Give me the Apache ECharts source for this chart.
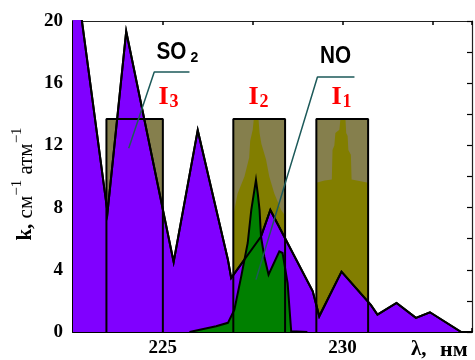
<!DOCTYPE html>
<html>
<head>
<meta charset="utf-8">
<script src="https://cdn.jsdelivr.net/npm/echarts@6/dist/echarts.min.js"></script>
<style>
  html, body { margin: 0; padding: 0; background: #fff; }
  #chart { width: 475px; height: 360px; }
</style>
</head>
<body>
<div id="chart"></div>
<script>
// SO2 absorption coefficient k (cm^-1 atm^-1) against wavelength (nm)
const so2Wave = [222.5, 223.46, 223.98, 225.30, 225.97, 226.81, 226.90, 227.73, 227.99, 229.17, 229.35, 229.97, 230.79, 230.97, 231.50, 232.04, 232.43, 233.30, 233.6];
const so2K    = [24.3,  7.7,    19.33,  4.5,    12.98,  4.65,   3.47,   6.14,   7.85,   2.62,   1.01,   3.88,   1.73,   1.12,   1.87,   0.91,   1.27,   0,      0];

// NO absorption band
const noWave = [225.74, 226.48, 226.81, 226.99, 227.18, 227.36, 227.46, 227.59, 227.64, 227.69, 227.73, 227.82, 227.94, 228.24, 228.33, 228.47, 228.57, 229.02];
const noK    = [0,      0.37,   0.59,   1.44,   3.58,   5.72,   7.85,   9.78,   8.9,    7.85,   6.14,   4.86,   3.69,   5.18,   5.08,   3.15,   0.05,   0];

// Spectral windows I3, I2, I1
const bandIndex  = ['3', '2', '1'];
const bandFrom   = [223.43, 226.96, 229.27];
const bandTo     = [225.0,  228.4,  230.71];
const bandHeight = 13.7;

// Lamp line profiles inside windows I2 and I1
const lampI2Wave = [226.96, 227.08, 227.27, 227.40, 227.43, 227.50, 227.53, 227.66, 227.69, 227.74, 227.87, 227.96, 228.10, 228.29, 228.40];
const lampI2K    = [7.5,    8.9,    10.0,   11.2,   12.3,   13.0,   13.7,   13.7,   12.8,   12.1,   11.1,   10.0,   8.9,    7.85,   7.5];
const lampI1Wave = [229.27, 229.50, 229.70, 229.72, 229.77, 229.80, 229.91, 229.94, 230.08, 230.10, 230.14, 230.16, 230.23, 230.25, 230.50, 230.71];
const lampI1K    = [9.6,    9.75,   9.8,    11.7,   12.0,   12.8,   13.0,   13.7,   13.7,   12.8,   12.6,   11.7,   11.4,   9.8,    9.7,    9.6];

// Leader lines from the species labels
const so2LeaderWave = [224.05, 224.76, 225.74];
const so2LeaderK    = [11.81,  16.72,  16.72];
const noLeaderWave  = [227.59, 229.30, 230.33];
const noLeaderK     = [3.37,   16.40,  16.40];

// Axis ticks
const xMin = 222.5, xMax = 233.6, xStep = 2.5;
const xTickLabels = [225, 230];
const yMin = 0, yMax = 20, yStep = 4;

const pts = (xs, ys) => xs.map((x, i) => [x, ys[i]]);
const rect = (a, b, h) => [[a, 0], [a, h], [b, h], [b, 0]];

const serif = '"Liberation Serif", "Times New Roman", serif';
const sans = '"Liberation Sans", Arial, sans-serif';
const black = '#000';

const series = [];

// window fills
bandFrom.forEach((a, i) => series.push({
  type: 'line', data: rect(a, bandTo[i], bandHeight), symbol: 'none', z: 1, silent: true,
  lineStyle: { width: 0 }, areaStyle: { color: '#857f4d', opacity: 1 }
}));

// lamp profiles
[[lampI2Wave, lampI2K], [lampI1Wave, lampI1K]].forEach(([w, k]) => series.push({
  type: 'line', data: pts(w, k), symbol: 'none', z: 2, silent: true,
  lineStyle: { width: 0 }, areaStyle: { color: '#827e00', opacity: 1 }
}));

// SO2 filled spectrum
series.push({
  type: 'line', name: 'SO2', data: pts(so2Wave, so2K), symbol: 'none', z: 3,
  lineStyle: { color: black, width: 2, join: 'miter' },
  areaStyle: { color: '#8000ff', opacity: 1 }
});

// NO filled spectrum
series.push({
  type: 'line', name: 'NO', data: pts(noWave, noK), symbol: 'none', z: 4,
  lineStyle: { color: black, width: 2, join: 'miter' },
  areaStyle: { color: '#008000', opacity: 1 }
});

// SO2 contour over the NO band
series.push({
  type: 'line', data: pts(so2Wave, so2K), symbol: 'none', z: 5,
  lineStyle: { color: black, width: 2, join: 'miter' }
});

// window outlines
bandFrom.forEach((a, i) => series.push({
  type: 'line', data: rect(a, bandTo[i], bandHeight), symbol: 'none', z: 6, silent: true,
  lineStyle: { color: black, width: 2 }
}));

// leaders
[[so2LeaderWave, so2LeaderK], [noLeaderWave, noLeaderK]].forEach(([w, k]) => series.push({
  type: 'line', data: pts(w, k), symbol: 'none', z: 7, silent: true,
  lineStyle: { color: '#1d5a5a', width: 1.5 }
}));

const xAxisBase = {
  type: 'value', min: xMin, max: xMax, interval: xStep,
  splitLine: { show: false },
  axisTick: { show: true, inside: true, length: 4, lineStyle: { color: black, width: 1.5 } }
};

const option = {
  animation: false,
  backgroundColor: '#fff',
  grid: { left: 73, right: 2, top: 21, bottom: 28 },
  xAxis: [
    Object.assign({}, xAxisBase, {
      position: 'bottom',
      axisLine: { show: true, onZero: false, lineStyle: { color: black, width: 2 } },
      axisLabel: {
        margin: 7, color: black, fontFamily: serif, fontWeight: 'bold', fontSize: 19,
        formatter: v => (xTickLabels.includes(v) ? String(v) : '')
      }
    }),
    Object.assign({}, xAxisBase, {
      position: 'top',
      axisLine: { show: true, onZero: false, lineStyle: { color: '#222', width: 1.2 } },
      axisLabel: { show: false }
    })
  ],
  yAxis: [
    {
      type: 'value', min: yMin, max: yMax, interval: yStep, position: 'left',
      splitLine: { show: false },
      axisLine: { show: true, onZero: false, lineStyle: { color: black, width: 2 } },
      axisTick: { show: true, inside: true, length: 8, lineStyle: { color: black, width: 1.5 } },
      minorTick: { show: true, splitNumber: 2, length: 5, lineStyle: { color: black, width: 1.5 } },
      axisLabel: { margin: 10, color: black, fontFamily: serif, fontWeight: 'bold', fontSize: 19 }
    },
    {
      type: 'value', min: yMin, max: yMax, interval: yStep / 2, position: 'right',
      splitLine: { show: false },
      axisLine: { show: true, onZero: false, lineStyle: { color: '#222', width: 1.2 } },
      axisTick: { show: true, inside: true, length: 5, lineStyle: { color: black, width: 1.2 } },
      axisLabel: { show: false }
    }
  ],
  series: series,
  graphic: [
    // y axis title
    {
      type: 'text', x: 26, y: 184, rotation: Math.PI / 2, silent: true,
      style: {
        text: '{k|k,} {m|см}{s|−1} {m|атм}{s|−1}',
        align: 'center', verticalAlign: 'middle', fill: black,
        fontFamily: serif, fontSize: 21,
        rich: {
          k: { fontFamily: serif, fontSize: 21, fontWeight: 'bold', fill: black, lineHeight: 32 },
          m: { fontFamily: serif, fontSize: 21, fill: black, lineHeight: 32 },
          s: { fontFamily: serif, fontSize: 15, fill: black, lineHeight: 16, verticalAlign: 'top' }
        }
      }
    },
    // x axis title
    {
      type: 'text', x: 411, y: 350, silent: true,
      style: { text: 'λ,', fill: black, font: 'bold 21px ' + serif, align: 'left', verticalAlign: 'middle' }
    },
    {
      type: 'text', x: 440, y: 350, silent: true,
      style: { text: 'нм', fill: black, font: 'bold 22px ' + serif, align: 'left', verticalAlign: 'middle' }
    },
    // species labels
    { type: 'text', x: 156.5, y: 53, silent: true, scaleX: 0.9,
      style: { text: 'SO', fill: black, font: 'bold 23px ' + sans, align: 'left', verticalAlign: 'middle' } },
    { type: 'text', x: 190.5, y: 58.5, silent: true,
      style: { text: '2', fill: black, font: 'bold 14px ' + sans, align: 'left', verticalAlign: 'middle' } },
    { type: 'text', x: 320, y: 57, silent: true, scaleX: 0.9,
      style: { text: 'NO', fill: black, font: 'bold 23px ' + sans, align: 'left', verticalAlign: 'middle' } }
  ]
};

// window labels I3, I2, I1
const bandLabelX = [158.5, 248.5, 331.5];
bandIndex.forEach((n, i) => {
  option.graphic.push(
    { type: 'text', x: bandLabelX[i], y: 97, silent: true,
      style: { text: 'I', fill: '#ff0000', font: 'bold 26px ' + serif, align: 'left', verticalAlign: 'middle' } },
    { type: 'text', x: bandLabelX[i] + 11, y: 102.5, silent: true,
      style: { text: n, fill: '#ff0000', font: 'bold 18px ' + serif, align: 'left', verticalAlign: 'middle' } }
  );
});

const chart = echarts.init(document.getElementById('chart'), null, { renderer: 'canvas' });
chart.setOption(option);
</script>
</body>
</html>
